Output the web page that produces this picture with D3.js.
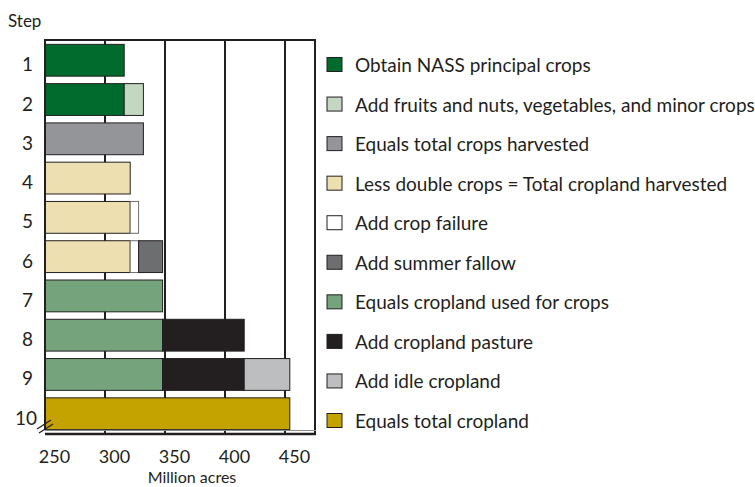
<!DOCTYPE html>
<html>
<head>
<meta charset="utf-8">
<script src="https://cdn.jsdelivr.net/npm/d3@7"></script>
<style>
  body { margin: 0; background: #fff; }
  svg text { font-family: Lato, "Open Sans", sans-serif; fill: #231f20; }
</style>
</head>
<body>
<svg id="chart" width="755" height="487"></svg>
<script>
// Các bước (trục y)
const steps = ['1', '2', '3', '4', '5', '6', '7', '8', '9', '10'];

// Chú thích và màu của từng chuỗi
const seriesLabels = [
    'Obtain NASS principal crops',
    'Add fruits and nuts, vegetables, and minor crops',
    'Equals total crops harvested',
    'Less double crops = Total cropland harvested',
    'Add crop failure',
    'Add summer fallow',
    'Equals cropland used for crops',
    'Add cropland pasture',
    'Add idle cropland',
    'Equals total cropland'
];
const seriesColors = ['#006b2d', '#c3d7c1', '#939598', '#eedfb1', '#ffffff',
                      '#6d6e70', '#75a37b', '#231f20', '#bcbec0', '#c4a200'];

// Mỗi bước: danh sách [chỉ số chuỗi, giá trị cộng dồn ở cuối đoạn] (triệu acre)
const stepSegments = [
    [[0, 316]],
    [[0, 316], [1, 332]],
    [[2, 332]],
    [[3, 321]],
    [[3, 321], [4, 328]],
    [[3, 321], [4, 328], [5, 348]],
    [[6, 348]],
    [[6, 348], [7, 416]],
    [[6, 348], [7, 416], [8, 454]],
    [[9, 454]]
];

const xTicks = [250, 300, 350, 400, 450];
const xDomain = [250, 475];

const svg = d3.select('#chart');
const INK = '#231f20';

const x = d3.scaleLinear().domain(xDomain).range([45, 315]);
const y = d3.scaleBand().domain(steps).range([42, 432]).paddingInner(0.19).paddingOuter(0.06);
const legendY = d3.scalePoint().domain(steps).range([65, 421]);

// Lưới dọc
svg.append('g').selectAll('line')
    .data(xTicks.slice(1))
    .join('line')
    .attr('x1', d => x(d)).attr('x2', d => x(d))
    .attr('y1', 40).attr('y2', 433)
    .attr('stroke', INK).attr('stroke-width', 2);

// Tách dữ liệu thành các đoạn có điểm đầu/cuối
const bars = [];
stepSegments.forEach((segs, i) => {
    let start = xDomain[0];
    segs.forEach(([s, end]) => {
        bars.push({ step: steps[i], series: s, start, end });
        start = end;
    });
});

svg.append('g').selectAll('rect')
    .data(bars)
    .join('rect')
    .attr('x', d => x(d.start))
    .attr('y', d => y(d.step))
    .attr('width', d => x(d.end) - x(d.start))
    .attr('height', y.bandwidth())
    .attr('fill', d => seriesColors[d.series])
    .attr('stroke', d => d.series === 4 ? '#6d6e70' : INK)
    .attr('stroke-width', 1);

// Khung
const frame = svg.append('g').attr('stroke', INK).attr('fill', 'none');
frame.append('line').attr('x1', 44).attr('x2', 316).attr('y1', 40).attr('y2', 40).attr('stroke-width', 2);
frame.append('line').attr('x1', 45).attr('x2', 45).attr('y1', 40).attr('y2', 430).attr('stroke-width', 2);
frame.append('line').attr('x1', 315).attr('x2', 315).attr('y1', 40).attr('y2', 435).attr('stroke-width', 2);
frame.append('line').attr('x1', 45).attr('x2', 316).attr('y1', 430.5).attr('y2', 430.5).attr('stroke-width', 1).attr('stroke', '#8a8b8d');
frame.append('line').attr('x1', 45).attr('x2', 316).attr('y1', 434).attr('y2', 434).attr('stroke-width', 2.5);

// Ký hiệu ngắt trục
const brk = svg.append('g').attr('stroke', INK).attr('stroke-width', 1.3);
brk.append('line').attr('x1', 37).attr('y1', 429).attr('x2', 51).attr('y2', 420);
brk.append('line').attr('x1', 39).attr('y1', 433).attr('x2', 53).attr('y2', 424);

// Trục x
const xAxis = svg.append('g')
    .attr('transform', 'translate(0, 435)')
    .call(d3.axisBottom(x).tickValues(xTicks).tickSize(0).tickPadding(0));
xAxis.select('.domain').remove();
xAxis.selectAll('text')
    .attr('x', 9).attr('y', 28).attr('dy', null)
    .style('font-size', '18px');

svg.append('text')
    .attr('x', 192).attr('y', 483)
    .attr('text-anchor', 'middle')
    .style('font-size', '16px')
    .text('Million acres');

// Nhãn bước
svg.append('text').attr('x', 8).attr('y', 27).style('font-size', '17px').text('Step');
svg.append('g').selectAll('text')
    .data(steps)
    .join('text')
    .attr('x', d => d === '10' ? 37 : 33)
    .attr('y', d => y(d) + y.bandwidth() / 2 + 11)
    .attr('text-anchor', 'end')
    .style('font-size', '19px')
    .text(d => d);

// Chú thích
const legend = svg.append('g').selectAll('g')
    .data(seriesLabels)
    .join('g')
    .attr('transform', (d, i) => `translate(327, ${legendY(steps[i])})`);
legend.append('rect')
    .attr('x', 0).attr('y', -7.5)
    .attr('width', 15).attr('height', 14)
    .attr('fill', (d, i) => seriesColors[i])
    .attr('stroke', INK).attr('stroke-width', 1);
legend.append('text')
    .attr('x', 28).attr('y', 7)
    .style('font-size', '19px')
    .text(d => d);
</script>
</body>
</html>
